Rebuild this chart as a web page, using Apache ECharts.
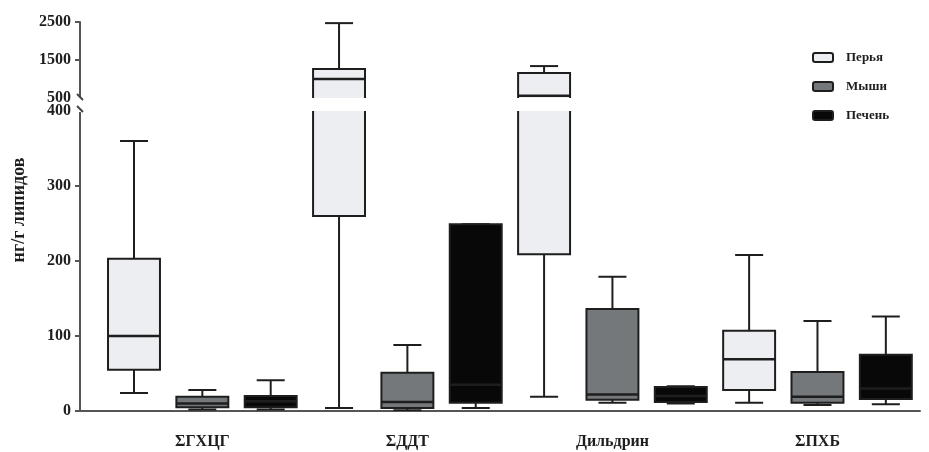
<!DOCTYPE html>
<html><head><meta charset="utf-8">
<script src="https://cdn.jsdelivr.net/npm/echarts@6/dist/echarts.min.js"></script>
<style>html,body{margin:0;padding:0;background:#fff}#c{width:929px;height:452px}</style>
</head><body><div id="c"></div>
<script>
var categories = ['ΣГХЦГ', 'ΣДДТ', 'Дильдрин', 'ΣПХБ'];
var tissues = ['Перья', 'Мыши', 'Печень'];
// [min, Q1, median, Q3, max] for each category
var feathers = [[24, 55, 100, 203, 360], [4, 260, 1000, 1260, 2470], [19, 209, 560, 1160, 1340], [11, 28, 69, 107, 208]];
var mice     = [[2, 5, 10, 19, 28], [1, 4, 12, 51, 88], [11, 15, 22, 136, 179], [8, 11, 19, 52, 120]];
var liver    = [[2, 5, 13, 20, 41], [4, 11, 35, 249, 249], [10, 12, 20, 32, 33], [9, 16, 30, 75, 126]];
var lowerTicks = [0, 100, 200, 300, 400];
var upperTicks = [500, 1500, 2500];

var tissueData = [feathers, mice, liver];
var fills = ['#eceef2', '#75787b', '#080808'];
var FONT = 'Liberation Serif';
var INK = '#1e1e1e';

function makeRender(fill) {
  return function (params, api) {
    var x = api.value(0);
    var pLo = api.coord([x, api.value(1)]);
    var pQ1 = api.coord([x, api.value(2)]);
    var pMd = api.coord([x, api.value(3)]);
    var pQ3 = api.coord([x, api.value(4)]);
    var pHi = api.coord([x, api.value(5)]);
    var band = api.size([1, 0])[0];
    var w = band * 0.76, cw = band * 0.41;
    var cx = pMd[0];
    var ls = { stroke: INK, lineWidth: 2 };
    return { type: 'group', children: [
      { type: 'line', shape: { x1: cx, y1: pQ3[1], x2: cx, y2: pHi[1] }, style: ls },
      { type: 'line', shape: { x1: cx - cw / 2, y1: pHi[1], x2: cx + cw / 2, y2: pHi[1] }, style: ls },
      { type: 'line', shape: { x1: cx, y1: pQ1[1], x2: cx, y2: pLo[1] }, style: ls },
      { type: 'line', shape: { x1: cx - cw / 2, y1: pLo[1], x2: cx + cw / 2, y2: pLo[1] }, style: ls },
      { type: 'rect', shape: { x: cx - w / 2, y: pQ3[1], width: w, height: pQ1[1] - pQ3[1] }, style: { fill: fill, stroke: INK, lineWidth: 2 } },
      { type: 'line', shape: { x1: cx - w / 2, y1: pMd[1], x2: cx + w / 2, y2: pMd[1] }, style: { stroke: INK, lineWidth: 2.5 } }
    ] };
  };
}

var series = [];
tissues.forEach(function (name, t) {
  var data = tissueData[t].map(function (v, c) { return [c * 3 + t].concat(v); });
  [0, 1].forEach(function (g) {
    series.push({
      type: 'custom', name: name, xAxisIndex: g, yAxisIndex: g, clip: true,
      itemStyle: { color: fills[t], borderColor: INK },
      encode: { x: 0, y: [1, 2, 3, 4, 5] },
      renderItem: makeRender(fills[t]), data: data
    });
  });
});

var labelStyle = { fontFamily: FONT, fontWeight: 'bold', fontSize: 16, color: INK };
var plain = function (v) { return String(v); };
var chart = echarts.init(document.getElementById('c'));
chart.setOption({
  animation: false,
  grid: [
    { left: 80, right: 9, top: 111, bottom: 41 },
    { left: 80, right: 9, top: 22, height: 76 }
  ],
  xAxis: [
    { type: 'value', gridIndex: 0, min: -0.79, max: 11.5,
      axisLine: { show: true, onZero: false, lineStyle: { color: '#555', width: 2 } },
      axisTick: { show: false }, splitLine: { show: false },
      axisLabel: Object.assign({ customValues: [1, 4, 7, 10], margin: 23,
        formatter: function (v) { return categories[Math.round((v - 1) / 3)]; } }, labelStyle) },
    { type: 'value', gridIndex: 1, min: -0.79, max: 11.5, show: false, splitLine: { show: false } }
  ],
  yAxis: [
    { type: 'value', gridIndex: 0, min: 0, max: 400, interval: 100,
      axisLine: { show: true, onZero: false, lineStyle: { color: '#555', width: 2 } },
      axisTick: { show: true, length: 5, lineStyle: { color: '#555', width: 2 }, customValues: lowerTicks.slice(0, 4) },
      splitLine: { show: false },
      axisLabel: Object.assign({ margin: 9, customValues: lowerTicks, formatter: plain }, labelStyle) },
    { type: 'value', gridIndex: 1, min: 500, max: 2500,
      axisLine: { show: true, onZero: false, lineStyle: { color: '#555', width: 2 } },
      axisTick: { show: true, length: 5, lineStyle: { color: '#555', width: 2 }, customValues: upperTicks.slice(1) },
      splitLine: { show: false },
      axisLabel: Object.assign({ margin: 9, customValues: upperTicks, formatter: plain }, labelStyle) }
  ],
  legend: {
    data: tissues, orient: 'vertical', left: 807, top: 46,
    icon: 'roundRect', itemWidth: 20, itemHeight: 9, itemGap: 16,
    itemStyle: { borderColor: INK, borderWidth: 2 },
    textStyle: { fontFamily: FONT, fontWeight: 'bold', fontSize: 13, color: INK, padding: [0, 0, 0, 8] }
  },
  series: series
});

var pu = chart.convertToPixel({ xAxisIndex: 1, yAxisIndex: 1 }, [-0.79, 500]);
var pl = chart.convertToPixel({ xAxisIndex: 0, yAxisIndex: 0 }, [-0.79, 400]);
chart.setOption({
  graphic: [
    { type: 'rect', shape: { x: pu[0] - 3, y: pu[1] - 1, width: 6, height: pl[1] - pu[1] + 2 }, style: { fill: '#fff' }, z: 100 },
    { type: 'line', shape: { x1: pu[0] - 3, y1: pu[1] - 4, x2: pu[0] + 3, y2: pu[1] + 2 }, style: { stroke: '#444', lineWidth: 2 }, z: 101 },
    { type: 'line', shape: { x1: pl[0] - 3, y1: pl[1] - 5, x2: pl[0] + 3, y2: pl[1] + 1 }, style: { stroke: '#444', lineWidth: 2 }, z: 101 },
    { type: 'text', x: 19, y: 210, rotation: Math.PI / 2,
      style: { text: 'нг/г липидов', font: 'bold 18px "' + FONT + '"', fill: INK, align: 'center', verticalAlign: 'middle' } }
  ]
});
</script></body></html>
